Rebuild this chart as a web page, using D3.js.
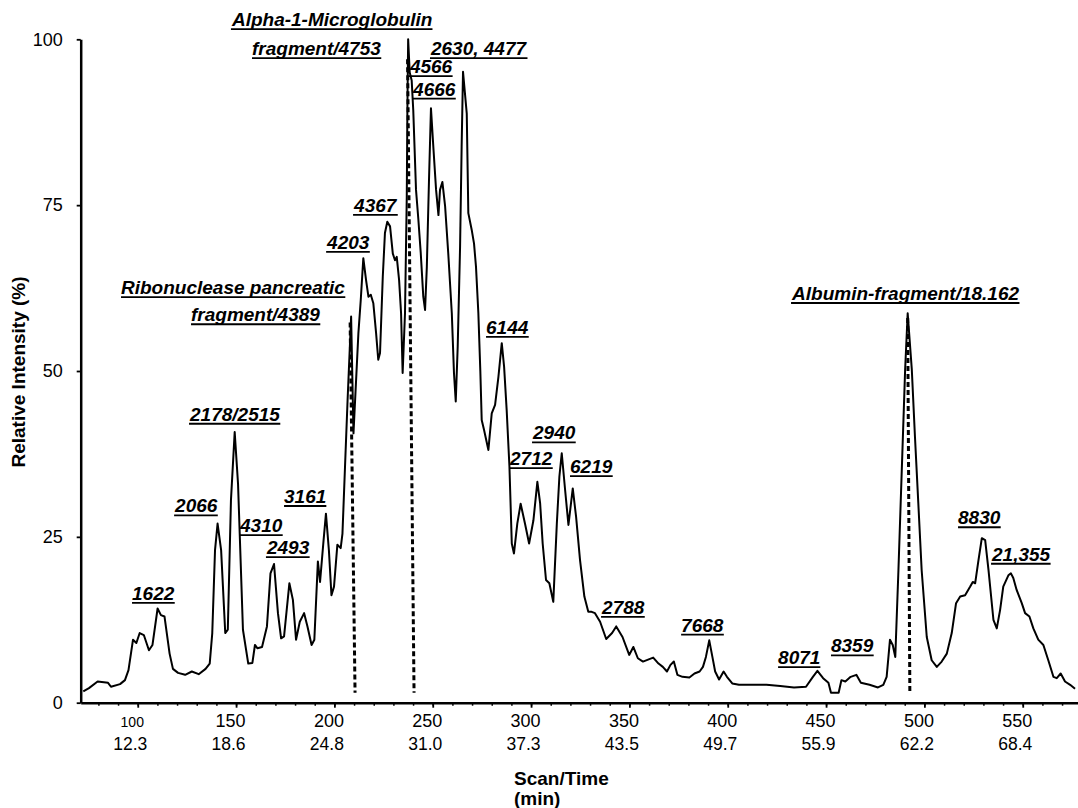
<!DOCTYPE html>
<html><head><meta charset="utf-8">
<script src="https://cdn.jsdelivr.net/npm/d3@7"></script>
<style>
html,body{margin:0;padding:0;background:#fff;}
svg{display:block;}
text{font-family:"Liberation Sans",Arial,Helvetica,sans-serif;fill:#000;}
</style></head><body>
<svg id="chart" width="1078" height="808"></svg>
<script>
// ---- data ----
const scans = [72.3,75.2,79.6,84.9,86.4,91.0,93.5,95.3,97.6,99.3,101.0,103.1,105.7,107.5,110.1,111.8,113.6,116.2,117.9,120.5,124.1,127.5,131.0,134.5,136.6,137.9,139.3,140.6,142.4,144.5,145.8,147.4,149.3,151.0,153.5,156.2,158.3,159.6,160.9,163.2,165.7,167.5,169.3,171.3,172.9,174.4,177.1,178.9,180.5,182.4,184.6,186.3,188.4,189.8,191.6,192.7,194.5,195.7,197.2,198.5,199.8,201.5,203.2,204.1,205.4,206.7,208.5,209.7,212.2,213.4,214.7,216.1,217.3,218.5,219.8,221.2,222.3,223.2,224.6,225.7,226.9,228.3,229.7,230.8,231.7,232.9,233.9,234.7,235.9,236.8,237.1,237.5,238.3,239.3,240.1,241.5,242.7,243.9,245.2,246.1,247.0,248.1,249.1,250.3,251.7,252.9,253.7,254.9,256.3,257.9,259.7,260.8,261.7,262.7,263.9,264.7,265.4,267.3,268.1,269.8,271.0,272.0,273.2,274.2,274.9,276.1,278.3,280.0,281.7,283.4,285.1,286.3,287.6,289.0,290.2,291.3,293.0,294.7,296.9,299.0,301.2,303.2,304.6,305.9,307.6,309.3,311.3,313.1,314.4,315.6,317.3,319.0,321.2,322.9,324.9,327.1,329.1,330.8,332.5,335.1,338.2,341.2,343.3,346.5,349.9,352.0,354.3,356.9,359.5,362.1,364.8,367.0,369.1,370.9,372.6,374.4,377.0,380.5,383.1,385.7,387.4,388.9,390.6,392.2,393.6,395.6,397.9,399.6,402.3,405.7,412.8,419.7,426.7,433.7,439.8,443.3,445.6,448.5,451.2,452.5,456.4,457.8,459.8,462.5,465.4,467.7,472.1,476.4,479.1,480.8,482.5,483.9,485.2,486.8,488.5,490.2,491.5,493.6,495.2,496.9,498.6,501.2,503.7,506.3,508.8,511.4,513.9,516.1,518.2,520.7,523.3,524.6,525.8,527.5,529.2,530.9,532.6,535.1,536.8,538.5,540.1,542.7,544.0,545.2,546.9,549.5,551.2,553.4,555.4,557.9,560.5,563.0,565.6,567.3,569.3,571.5,574.1,576.6];
const intensity = [1.7,2.2,3.2,3.0,2.4,2.8,3.4,4.9,9.5,9.0,10.5,10.2,7.9,8.7,14.2,13.2,13.0,7.4,5.1,4.5,4.2,4.7,4.3,5.1,5.9,10.5,23,27.0,23,10.5,11,30.5,40.8,33,11,5.9,6.0,8.7,8.2,8.4,11.5,19.5,20.9,13.5,9.7,10.0,18.0,15.5,9.5,12.2,13.5,11.5,8.7,9.5,21.3,18.2,24.5,28.5,23,16.2,17.5,23.8,23.3,25.5,35.6,45.6,58.2,40.6,55.7,60.7,67.0,63.7,61.2,61.5,60.2,55.7,51.7,52.7,64.2,70.8,72.5,71.8,67.7,66.7,67.2,63.7,58.7,49.7,58.7,76.3,88.8,100,95,93.8,89.3,77.3,72.8,67.8,61.2,59.2,65.7,78.8,89.6,83.8,77.3,73.5,77.3,78.5,74.8,67.7,58.7,49.7,45.4,53.7,68.7,83.8,95.1,88.8,73.8,71.3,69.2,65.7,58.7,50,42.6,41.1,38.1,43.6,44.9,49.1,54.2,50.6,44.1,35.6,24.0,22.5,27.0,30.0,27.0,24.0,27.5,33.3,30.1,24.0,18.5,18.0,15.2,27.0,34.1,37.6,32.1,26.8,32.3,28.0,21.5,16.0,13.7,13.7,13.5,12.2,9.6,10.5,11.5,9.9,7.2,8.4,6.7,6.2,6.5,6.8,5.9,5.4,4.7,5.7,6.2,4.2,3.9,3.8,4.4,4.7,5.4,6.9,9.4,6.9,4.7,3.5,4.7,3.9,2.9,2.7,2.7,2.7,2.5,2.3,2.4,3.9,4.8,3.7,3.0,1.5,1.5,3.4,3.2,3.9,4.2,3.0,2.7,2.3,2.7,3.9,9.5,8.7,6.9,20.0,35.1,50.2,58.7,50.2,40.1,30.1,20.0,9.9,6.4,5.4,6.2,7.4,10.5,15.0,16.0,16.2,17.5,18.2,18.0,21.5,24.8,24.5,20.0,12.5,11.2,14.0,17.5,19.2,19.5,18.8,17.0,15.0,13.5,13.0,11.2,9.5,8.7,6.4,3.9,3.7,4.4,3.2,2.7,2.1];

const scanTicks = [100,150,200,250,300,350,400,450,500,550];
const timeLabels = ["12.3","18.6","24.8","31.0","37.3","43.5","49.7","55.9","62.2","68.4"];
const yTicks = [0,25,50,75,100];

// peak annotations: text, anchor scan, anchor intensity (left/baseline of label)
const labelTexts = ["Alpha-1-Microglobulin","fragment/4753","2630, 4477","4566","4666","4367","4203",
  "Ribonuclease pancreatic","fragment/4389","6144","2178/2515","2066","4310","2493","3161","1622",
  "2940","2712","6219","2788","7668","8071","8359","8830","21,355","Albumin-fragment/18.162"];
const labelScans = [147.9,158.1,249.1,238.4,240.0,210.0,196.3,91.5,127.1,277.1,126.6,119.0,152.0,165.7,174.4,97.1,
  301.0,289.3,319.8,336.1,376.3,425.6,452.5,517.1,534.4,432.7];
const labelPcts = [102.0,97.6,97.6,94.9,91.5,74.0,68.4,61.6,57.5,55.6,42.5,28.7,25.7,22.4,30.1,15.5,
  39.7,35.8,34.6,13.4,10.7,5.8,7.6,26.9,21.4,60.7];

// dashed marker lines (scan/intensity at top and bottom)
const markerScanTop = [208.0, 237.2, 491.5];
const markerPctTop = [57.3, 97.0, 58.0];
const markerScanBottom = [210.5, 240.5, 492.6];
const markerPctBottom = [1.5, 1.5, 1.6];

// ---- drawing ----
const svg = d3.select("#chart");
const x = d3.scaleLinear().domain([71, 578]).range([80.7, 1077.8]);
const y = d3.scaleLinear().domain([0, 100]).range([702.7, 39.3]);
const y0 = y(0);

// x axis: minor ticks
svg.append("g").attr("transform", `translate(0,${y0})`)
  .call(d3.axisBottom(x).tickValues(d3.range(80, 580, 10)).tickSize(3).tickFormat(""))
  .call(g => g.select(".domain").remove())
  .call(g => g.selectAll("line").attr("stroke","#000").attr("stroke-width",1.5));

// x axis: major
const gx = svg.append("g").attr("transform", `translate(0,${y0})`)
  .call(d3.axisBottom(x).tickValues(scanTicks).tickSize(5).tickSizeOuter(0).tickFormat(d3.format("d")));
gx.select(".domain").attr("stroke","#000").attr("stroke-width",2.5);
gx.selectAll(".tick line").attr("stroke","#000").attr("stroke-width",1.8);
gx.selectAll(".tick text").attr("y",24).attr("dy",0).attr("x",-6)
  .style("font-size","18px").style("font-family",'"Liberation Sans",Arial,sans-serif');
gx.selectAll(".tick text").filter(d => d === 100).style("font-size","14px");
gx.selectAll(".tick").append("text")
  .attr("x",-8).attr("y",47.5).attr("fill","#000").attr("text-anchor","middle")
  .style("font-size","17.5px").style("font-family",'"Liberation Sans",Arial,sans-serif')
  .text((d,i) => timeLabels[i]);

// y axis
const gy = svg.append("g").attr("transform", `translate(${x(71)},0)`)
  .call(d3.axisLeft(y).tickValues(yTicks).tickSize(4).tickSizeOuter(0).tickFormat(d3.format("d")));
gy.select(".domain").attr("stroke","#000").attr("stroke-width",2.5);
gy.selectAll(".tick line").attr("stroke","#000").attr("stroke-width",1.8);
gy.selectAll(".tick text").attr("x",-18).style("font-size","18px")
  .style("font-family",'"Liberation Sans",Arial,sans-serif');

// trace
const pts = scans.map((s,i) => [s, intensity[i]]);
svg.append("path").datum(pts)
  .attr("fill","none").attr("stroke","#000").attr("stroke-width",2)
  .attr("stroke-linejoin","round")
  .attr("d", d3.line().x(d => x(d[0])).y(d => y(d[1])));

// dashed marker lines
svg.append("g").selectAll("line").data(markerScanTop).join("line")
  .attr("x1",(d,i) => x(markerScanTop[i])).attr("y1",(d,i) => y(markerPctTop[i]))
  .attr("x2",(d,i) => x(markerScanBottom[i])).attr("y2",(d,i) => y(markerPctBottom[i]))
  .attr("stroke","#000").attr("stroke-width",3).attr("stroke-dasharray","5,3");

// annotations
const ann = svg.append("g");
labelTexts.forEach((t,i) => {
  const tx = ann.append("text")
    .attr("x", x(labelScans[i])).attr("y", y(labelPcts[i]))
    .style("font-size","19px").style("font-weight","bold").style("font-style","italic")
    .text(t);
  const bb = tx.node().getBBox();
  ann.append("line")
    .attr("x1", bb.x).attr("x2", bb.x + bb.width)
    .attr("y1", y(labelPcts[i]) + 3).attr("y2", y(labelPcts[i]) + 3)
    .attr("stroke","#000").attr("stroke-width",1.8);
});

// axis titles
svg.append("text")
  .attr("transform", `translate(25,372) rotate(-90)`)
  .attr("text-anchor","middle")
  .style("font-size","19px").style("font-weight","bold")
  .text("Relative Intensity (%)");
svg.append("text").attr("x",514).attr("y",785)
  .style("font-size","19px").style("font-weight","bold").text("Scan/Time");
svg.append("text").attr("x",514).attr("y",805)
  .style("font-size","19px").style("font-weight","bold").text("(min)");
</script>
</body></html>
